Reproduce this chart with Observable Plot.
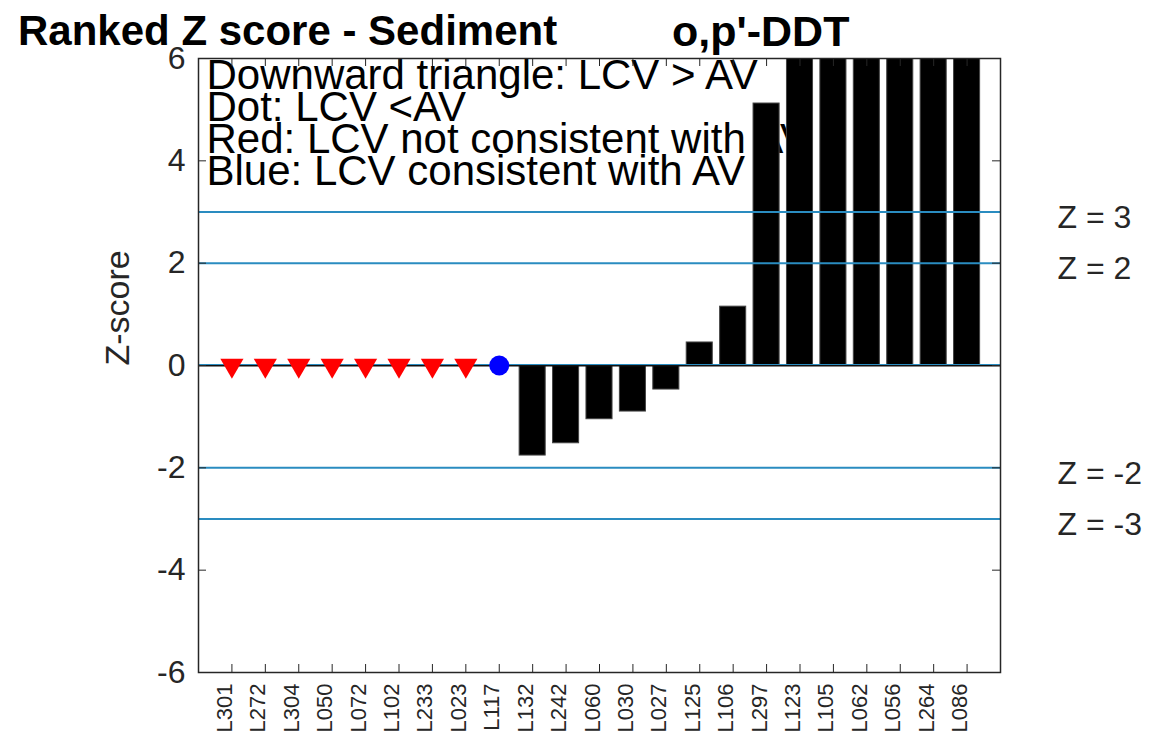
<!DOCTYPE html>
<html>
<head>
<meta charset="utf-8">
<script src="https://cdn.jsdelivr.net/npm/d3@7"></script>
<script src="https://cdn.jsdelivr.net/npm/@observablehq/plot@0.6"></script>
<style>
  html, body { margin: 0; padding: 0; background: #fff; }
  #wrap { position: relative; width: 1150px; height: 740px; font-family: "Liberation Sans", Arial, sans-serif; }
  .title { position: absolute; top: 10px; font-weight: bold; font-size: 42px; line-height: 42px; color: #000; white-space: nowrap; }
  #chart { position: absolute; left: 0; top: 0; }
</style>
</head>
<body>
<div id="wrap">
  <div id="chart"></div>
  <div class="title" style="left:18px">Ranked Z score - Sediment</div>
  <div class="title" style="left:672px; font-size:43px">o,p'-DDT</div>
</div>
<script>
// ---- data ----
const sites = ["L301","L272","L304","L050","L072","L102","L233","L023","L117","L132","L242","L060","L030","L027","L125","L106","L297","L123","L105","L062","L056","L264","L086"];
// Z-scores (null = no score; bars beyond 6 are clipped in the chart)
const zScores = [null,null,null,null,null,null,null,null,null,-1.76,-1.52,-1.05,-0.90,-0.47,0.45,1.15,5.12,7.0,8.3,9.6,11.2,13.5,17.0];
// Markers for sites without a Z-score
const markerSites = ["L301","L272","L304","L050","L072","L102","L233","L023","L117"];
const markerShape = ["triangle","triangle","triangle","triangle","triangle","triangle","triangle","triangle","dot"];
const markerColor = ["red","red","red","red","red","red","red","red","blue"];
const zLines = [3, 2, -2, -3];
const yTicks = [-6, -4, -2, 0, 2, 4, 6];
const legendLines = ["Downward triangle: LCV > AV", "Dot: LCV <AV", "Red: LCV not consistent with AV", "Blue: LCV consistent with AV"];

const bars = sites.map((s, i) => ({site: s, z: zScores[i]})).filter(d => d.z != null);
const markers = markerSites.map((s, i) => ({site: s, shape: markerShape[i], color: markerColor[i], z: 0}));
const tri = markers.filter(d => d.shape === "triangle");
const dots = markers.filter(d => d.shape === "dot");

const blue = "#2a8cc0";
const frameW = 1150 - 198 - 150;
const frameH = 740 - 58 - 68;

const chart = Plot.plot({
  width: 1150,
  height: 740,
  marginLeft: 198,
  marginRight: 150,
  marginTop: 58,
  marginBottom: 68,
  style: {fontFamily: "'Liberation Sans', Arial, sans-serif", background: "#fff", color: "#262626"},
  x: {type: "band", domain: sites, paddingInner: 0.22, paddingOuter: 0.61, align: 0.5, round: false, axis: null},
  y: {domain: [-6, 6], axis: null},
  marks: [
    // legend text (drawn beneath bars)
    Plot.text([legendLines.join("\n")], {frameAnchor: "top-left", dx: 8, dy: 8, lineAnchor: "top", lineHeight: 0.76, fontSize: 42, fill: "#000", textAnchor: "start"}),
    // bars
    Plot.barY(bars, {x: "site", y: "z", fill: "#000", stroke: "#444", strokeWidth: 1, clip: true}),
    // zero line
    Plot.ruleY([0], {stroke: "#111", strokeWidth: 2}),
    Plot.ruleY([0], {stroke: blue, strokeWidth: 1, dy: -1}),
    // reference lines
    Plot.ruleY(zLines, {stroke: blue, strokeWidth: 2}),
    // markers
    Plot.dot(tri, {x: "site", y: "z", symbol: "triangle", r: 8.6, rotate: 180, fill: "red", stroke: "none"}),
    Plot.dot(dots, {x: "site", y: "z", symbol: "circle", r: 10, fill: "blue", stroke: "none"}),
    // frame
    Plot.frame({stroke: "#262626", strokeWidth: 1.5}),
    // inward ticks
    Plot.tickY(yTicks, {y: d => d, insetRight: frameW - 8, stroke: "#262626"}),
    Plot.tickY(yTicks, {y: d => d, insetLeft: frameW - 8, stroke: "#262626"}),
    Plot.tickX(sites, {x: d => d, insetTop: frameH - 8, stroke: "#262626"}),
    Plot.tickX(sites, {x: d => d, insetBottom: frameH - 8, stroke: "#262626"}),
    // tick labels
    Plot.text(yTicks, {y: d => d, text: d => String(d), frameAnchor: "left", dx: -13, textAnchor: "end", fontSize: 32, fill: "#262626"}),
    Plot.text(sites, {x: d => d, text: d => d, frameAnchor: "bottom", dy: 11, rotate: -90, textAnchor: "end", fontSize: 22, fill: "#262626"}),
    // axis label
    Plot.text(["Z-score"], {frameAnchor: "left", dx: -80, rotate: -90, fontSize: 34, fill: "#262626"}),
    // Z labels
    Plot.text(zLines, {y: d => d, text: d => `Z = ${d}`, frameAnchor: "right", dx: 57, dy: 6, textAnchor: "start", fontSize: 32, fill: "#262626"})
  ]
});
document.getElementById("chart").appendChild(chart);
</script>
</body>
</html>
